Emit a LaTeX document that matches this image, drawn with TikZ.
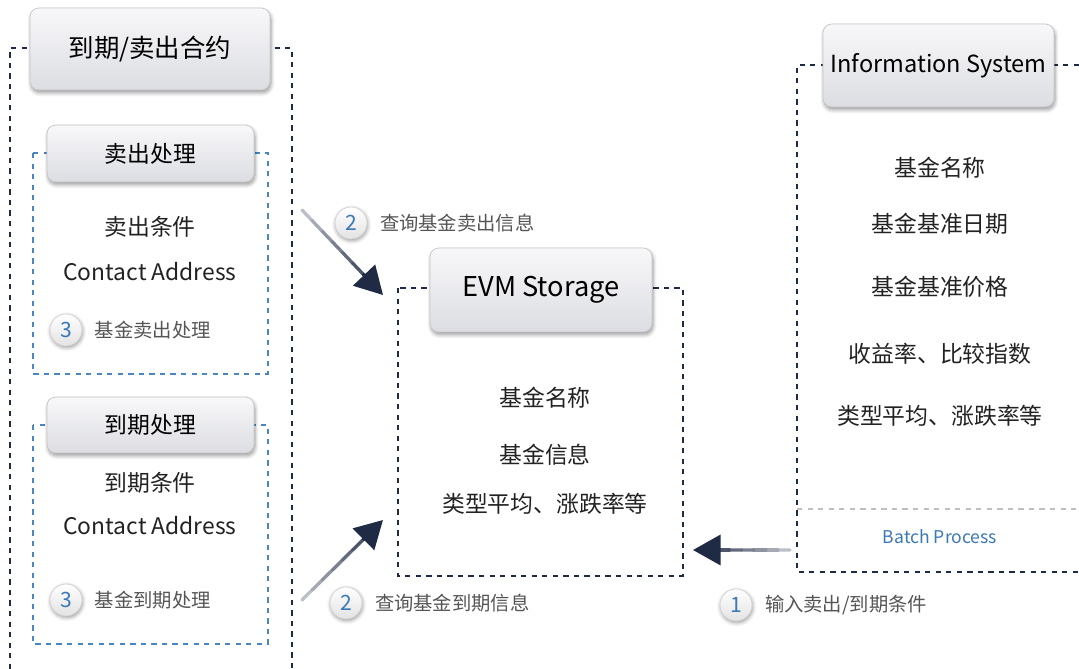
\documentclass[tikz,border=0pt]{standalone}
\usepackage{fontspec}
\setmainfont{Noto Sans CJK SC}
\usetikzlibrary{arrows.meta,calc,positioning,shadows.blur}

\definecolor{navy}{HTML}{1F2A44}
\definecolor{frameblue}{HTML}{4A86C5}
\definecolor{numblue}{HTML}{3A78B8}
\definecolor{hdrtop}{HTML}{F8F8FA}
\definecolor{hdrbot}{HTML}{DCDDE2}
\definecolor{bodytext}{HTML}{222222}
\definecolor{labeltext}{HTML}{555555}

\tikzset{
	header/.style={draw=gray!45, rounded corners=5pt, top color=hdrtop, bottom color=hdrbot,
			blur shadow={shadow xshift=0.6pt, shadow yshift=-1.6pt, shadow blur steps=6},
			inner sep=0pt, text=black, font=\fontsize{14.5pt}{17pt}\selectfont},
	outerframe/.style={draw=navy, dashed, line width=0.9pt},
	innerframe/.style={draw=frameblue, dashed, line width=0.7pt},
	bodyline/.style={text=bodytext, font=\fontsize{13pt}{15pt}\selectfont},
	numball/.style={circle, minimum size=0.64cm, inner sep=0pt, draw=gray!35, top color=white,
			bottom color=gray!22, text=numblue, font=\fontsize{12pt}{14pt}\selectfont,
			blur shadow={shadow xshift=0.4pt, shadow yshift=-1pt, shadow blur steps=4}},
	steplabel/.style={text=labeltext, font=\fontsize{11pt}{13pt}\selectfont, inner sep=1pt},
	flowhead/.style={-{Triangle[length=0.55cm, width=0.6cm]}, line width=1.9pt, draw=navy}
}

\begin{document}
\begin{tikzpicture}[x=0.02cm, y=-0.02cm]
	\useasboundingbox (0,0) rectangle (1079,669);

	% contract frame (left)
	\draw[outerframe] (10,669) -- (10,48) -- (292,48) -- (292,669);
	\draw[innerframe] (33,153) rectangle (268,374);
	\draw[innerframe] (33,425) rectangle (268,644);

	% storage frame (middle)
	\draw[outerframe] (398,288) rectangle (683,576);

	% info system frame (right)
	\draw[outerframe] (1079,65) -- (797,65) -- (797,572) -- (1079,572);
	\draw[gray!50, dashed, line width=0.6pt] (797,509) -- (1079,509);

	% headers
	\node[header, minimum width=4.8cm, minimum height=1.64cm] (contract) at (150,49) {到期/卖出合约};
	\node[header, minimum width=4.14cm, minimum height=1.14cm, font=\fontsize{13pt}{15pt}\selectfont] (sellhdr) at (150.5,153.5) {卖出处理};
	\node[header, minimum width=4.14cm, minimum height=1.12cm, font=\fontsize{13pt}{15pt}\selectfont] (expirehdr) at (150.5,425) {到期处理};
	\node[header, minimum width=4.44cm, minimum height=1.68cm, font=\fontsize{15.5pt}{18pt}\selectfont] (storage) at (541,290) {EVM Storage};
	\node[header, minimum width=4.62cm, minimum height=1.66cm, font=\fontsize{13.4pt}{16pt}\selectfont] (infosys) at (938.5,65.5) {Information System};

	% sell part
	\node[bodyline] (sellcond) at (150,227) {卖出条件};
	\node[bodyline] (selladdr) at (150,272) {Contact Address};
	\node[numball] (sellnum) at (66,330) {3};
	\node[steplabel, right=6pt of sellnum] (selldo) {基金卖出处理};

	% expire part
	\node[bodyline] (expcond) at (150,483) {到期条件};
	\node[bodyline] (expaddr) at (150,526) {Contact Address};
	\node[numball] (expnum) at (66,600) {3};
	\node[steplabel, right=6pt of expnum] (expdo) {基金到期处理};

	% storage content
	\node[bodyline] (stname) at (545,398) {基金名称};
	\node[bodyline] (stinfo) at (545,455) {基金信息};
	\node[bodyline] (stavg) at (545,504) {类型平均、涨跌率等};

	% info system content
	\node[bodyline] (isname) at (940,168) {基金名称};
	\node[bodyline] (isdate) at (940,224) {基金基准日期};
	\node[bodyline] (isprice) at (940,287) {基金基准价格};
	\node[bodyline] (israte) at (940,354) {收益率、比较指数};
	\node[bodyline] (isavg) at (940,416) {类型平均、涨跌率等};
	\node[text=numblue, font=\fontsize{10pt}{12pt}\selectfont] (batch) at (940,537) {Batch Process};

	% arrows
	\coordinate (qsellfrom) at (302,210);
	\coordinate (qsellto) at (383,295);
	\coordinate (qexpfrom) at (302,600);
	\coordinate (qexpto) at (383,520);
	\coordinate (inputfrom) at (790,550);
	\coordinate (inputto) at (693,550);
	\foreach \a/\b in {qsellfrom/qsellto, qexpfrom/qexpto, inputfrom/inputto}{
		\foreach \i in {0,...,5}{
			\pgfmathtruncatemacro{\shade}{30+\i*10}
			\draw[line width=1.9pt, navy!\shade, line cap=round]
				($(\a)!{\i/8}!(\b)$) -- ($(\a)!{(\i+1)/8}!(\b)$);
		}
		\draw[flowhead] ($(\a)!0.75!(\b)$) -- (\b);
	}

	% step labels
	\node[numball] (qsellnum) at (351,223) {2};
	\node[steplabel, right=6pt of qsellnum] (qselltxt) {查询基金卖出信息};
	\node[numball] (qexpnum) at (346,603) {2};
	\node[steplabel, right=6pt of qexpnum] (qexptxt) {查询基金到期信息};
	\node[numball] (inputnum) at (736,605) {1};
	\node[steplabel, right=6pt of inputnum] (inputtxt) {输入卖出/到期条件};
\end{tikzpicture}
\end{document}
